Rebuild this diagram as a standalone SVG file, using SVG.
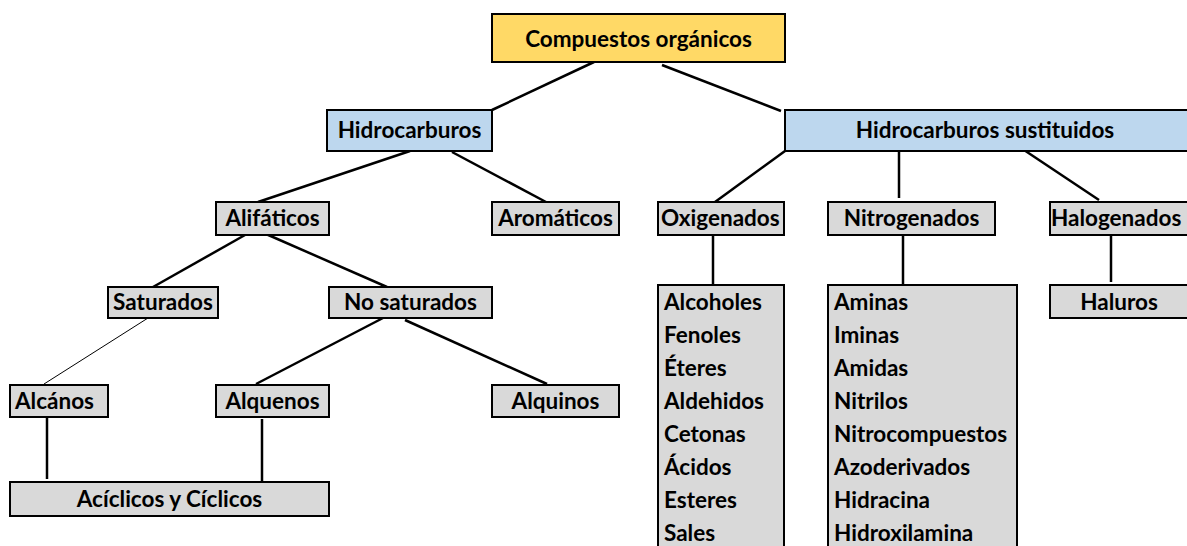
<svg xmlns="http://www.w3.org/2000/svg" width="1187" height="546" viewBox="0 0 1187 546">
<style>
rect{stroke:#000;stroke-width:2}
.g{fill:#D9D9D9}
.b{fill:#BDD7EE}
.y{fill:#FFD966}
text{font-family:Lato,"Liberation Sans",sans-serif;font-weight:bold;font-size:22.5px;fill:#000}
.c{text-anchor:middle}
#connectors line{stroke:#000;stroke-width:2.5}
</style>
<rect width="1187" height="546" fill="#fff" style="stroke:none"/>
<g id="connectors">
<line x1="594" y1="62" x2="492" y2="110"/>
<line x1="662" y1="65" x2="781" y2="111"/>
<line x1="410" y1="151" x2="258" y2="202"/>
<line x1="452" y1="152" x2="546" y2="202"/>
<line x1="785" y1="151" x2="715" y2="202"/>
<line x1="899" y1="151" x2="899" y2="198"/>
<line x1="1018" y1="146" x2="1099" y2="200"/>
<line x1="713" y1="235" x2="713" y2="285"/>
<line x1="903" y1="235" x2="903" y2="285"/>
<line x1="1111" y1="235" x2="1111" y2="282"/>
<line x1="245" y1="235" x2="153" y2="287"/>
<line x1="266" y1="234" x2="387" y2="287"/>
<line x1="148" y1="318" x2="44" y2="384" style="stroke-width:1"/>
<line x1="383" y1="318" x2="256" y2="384"/>
<line x1="405" y1="320" x2="547" y2="384"/>
<line x1="47" y1="417" x2="47" y2="479"/>
<line x1="262" y1="419" x2="262" y2="481"/>
</g>
<g id="n-compuestos"><rect class="y" x="492" y="14" width="293" height="48"/><text class="c" x="638.5" y="47">Compuestos orgánicos</text></g>
<g id="n-hidrocarburos"><rect class="b" x="327" y="110" width="165" height="41"/><text class="c" x="409.5" y="138">Hidrocarburos</text></g>
<g id="n-sustituidos"><rect class="b" x="785" y="110" width="404" height="41"/><text class="c" x="985" y="138">Hidrocarburos sustituidos</text></g>
<g id="n-alifaticos"><rect class="g" x="216" y="202" width="113" height="33"/><text class="c" x="272.5" y="226">Alifáticos</text></g>
<g id="n-aromaticos"><rect class="g" x="492" y="202" width="127" height="33"/><text class="c" x="555.5" y="226">Aromáticos</text></g>
<g id="n-oxigenados"><rect class="g" x="658" y="202" width="126" height="33"/><text x="661" y="226">Oxigenados</text></g>
<g id="n-nitrogenados"><rect class="g" x="828" y="202" width="167" height="33"/><text class="c" x="911.5" y="226">Nitrogenados</text></g>
<g id="n-halogenados"><rect class="g" x="1050" y="202" width="139" height="33"/><text x="1051" y="226">Halogenados</text></g>
<g id="n-saturados"><rect class="g" x="108" y="287" width="110" height="31"/><text class="c" x="163" y="310">Saturados</text></g>
<g id="n-nosaturados"><rect class="g" x="329" y="287" width="163" height="31"/><text class="c" x="410.5" y="310">No saturados</text></g>
<g id="n-alcanos"><rect class="g" x="10" y="385" width="98" height="32"/><text x="15" y="409">Alcános</text></g>
<g id="n-alquenos"><rect class="g" x="216" y="385" width="113" height="32"/><text class="c" x="272.5" y="409">Alquenos</text></g>
<g id="n-alquinos"><rect class="g" x="492" y="385" width="127" height="32"/><text class="c" x="555.5" y="409">Alquinos</text></g>
<g id="n-aciclicos"><rect class="g" x="10" y="482" width="319" height="34"/><text class="c" x="169.5" y="507">Acíclicos y Cíclicos</text></g>
<g id="n-oxi-list"><rect class="g" x="658" y="285" width="126" height="265"/>
<text x="664" y="310">Alcoholes</text><text x="664" y="343">Fenoles</text><text x="664" y="376">Éteres</text><text x="664" y="409">Aldehidos</text><text x="664" y="442">Cetonas</text><text x="664" y="475">Ácidos</text><text x="664" y="508">Esteres</text><text x="664" y="541">Sales</text></g>
<g id="n-nitro-list"><rect class="g" x="828" y="285" width="189" height="265"/>
<text x="834" y="310">Aminas</text><text x="834" y="343">Iminas</text><text x="834" y="376">Amidas</text><text x="834" y="409">Nitrilos</text><text x="834" y="442">Nitrocompuestos</text><text x="834" y="475">Azoderivados</text><text x="834" y="508">Hidracina</text><text x="834" y="541">Hidroxilamina</text></g>
<g id="n-haluros"><rect class="g" x="1050" y="285" width="139" height="33"/><text class="c" x="1119" y="310">Haluros</text></g>
</svg>
